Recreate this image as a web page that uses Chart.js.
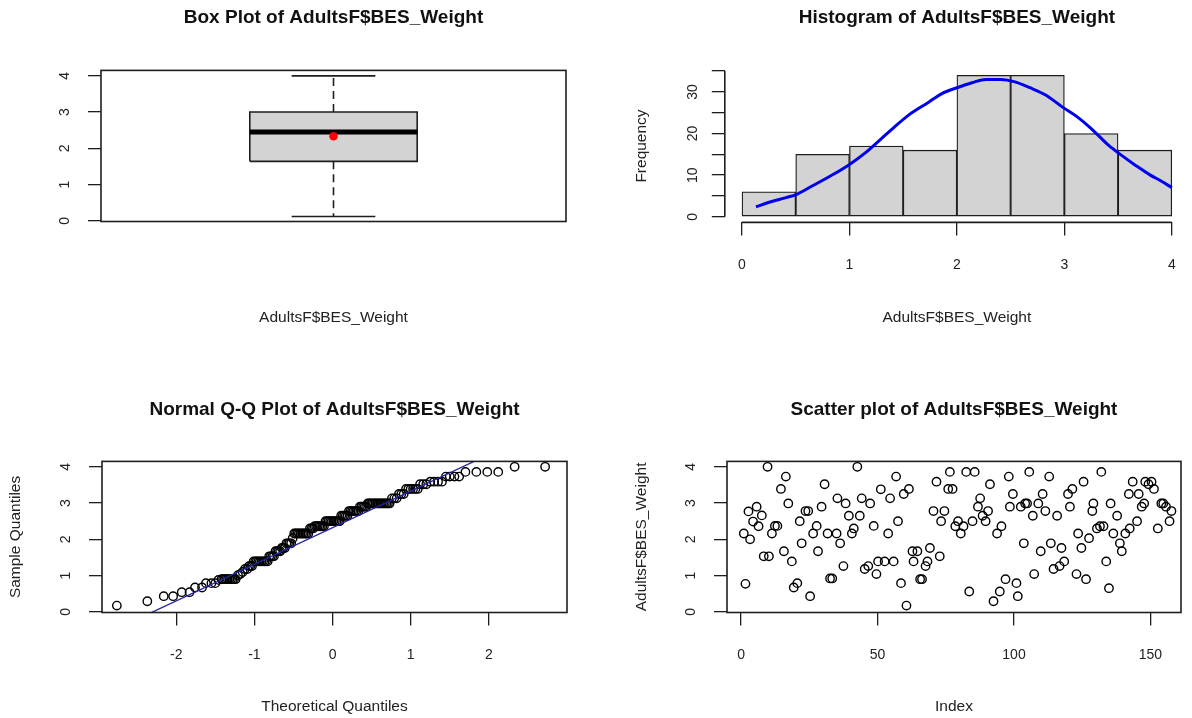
<!DOCTYPE html>
<html><head><meta charset="utf-8">
<script src="https://cdn.jsdelivr.net/npm/chart.js@4/dist/chart.umd.min.js"></script>
<style>
html,body{margin:0;padding:0;background:#fff;}
#wrap{position:relative;width:1192px;height:718px;overflow:hidden;}
canvas{position:absolute;}
</style></head><body>
<div id="wrap">
<canvas id="c1" width="596" height="359" style="left:0;top:0"></canvas>
<canvas id="c2" width="596" height="359" style="left:596px;top:0"></canvas>
<canvas id="c3" width="596" height="359" style="left:0;top:359px"></canvas>
<canvas id="c4" width="596" height="359" style="left:596px;top:359px"></canvas>
</div>
<script>
// ---------------- DATA ----------------
const varName = 'AdultsF$BES_Weight';
const boxStats = [0.12, 1.64, 2.45, 3.0, 4.0]; // min, Q1, median, Q3, max
const boxMean = 2.33;

const histBreaks = [0, 0.5, 1, 1.5, 2, 2.5, 3, 3.5, 4];
const histCounts = [6, 15, 17, 16, 34, 34, 20, 16];

const densityX = [0.13,0.27,0.41,0.51,0.64,0.81,0.98,1.15,1.29,1.42,1.56,1.73,1.86,2.0,2.14,2.27,2.41,2.54,2.68,2.83,2.98,3.12,3.25,3.41,3.53,3.66,3.80,3.90,4.0];
const densityY = [2.4,3.6,4.6,5.4,7.2,9.6,12.2,15.4,18.6,21.6,24.6,27.4,29.6,31.0,32.2,33.0,33.0,32.4,31.0,29.2,26.4,24.0,21.2,17.2,14.8,12.4,10.0,8.6,7.0];

const qqTheoretical = [
 -2.76,-2.37,-2.16,-2.04,-1.93,-1.83,-1.76,-1.67,-1.62,-1.55,-1.50,-1.46,
 -1.42,-1.40,-1.38,-1.36,-1.34,-1.32,-1.30,-1.28,-1.26,-1.24,
 -1.21,-1.18,-1.15,-1.12,-1.09,
 -1.07,-1.05,-1.03,
 -1.01,-0.99,-0.97,-0.95,-0.93,-0.91,-0.89,-0.87,-0.85,-0.83,
 -0.81,-0.79,-0.77,-0.75,
 -0.73,-0.71,-0.69,-0.67,
 -0.65,-0.63,-0.61,
 -0.59,-0.57,-0.55,-0.53,
 -0.51,
 -0.49,-0.47,-0.45,-0.43,-0.41,-0.39,-0.37,-0.35,-0.33,-0.31,
 -0.29,-0.27,-0.25,
 -0.23,-0.21,-0.19,-0.17,-0.15,-0.13,-0.11,
 -0.09,-0.07,-0.05,-0.03,-0.01,0.01,0.03,0.05,0.07,0.09,
 0.11,0.13,0.15,0.17,0.19,
 0.21,0.23,0.25,0.27,0.29,0.31,0.33,
 0.35,0.37,0.39,0.41,0.43,
 0.45,0.47,0.49,0.51,0.53,0.55,0.57,0.59,0.61,0.63,0.65,0.67,0.69,0.71,0.73,
 0.76,0.79,0.82,
 0.85,0.88,0.91,
 0.94,0.97,1.00,1.03,1.06,1.09,
 1.12,1.16,1.20,
 1.25,1.30,1.35,1.40,
 1.45,1.50,1.56,1.62,
 1.70,1.84,1.98,2.12,
 2.33,2.72];
const qqSample = [
 0.17,0.29,0.43,0.43,0.54,0.54,0.67,0.67,0.79,0.79,0.79,0.88,
 0.9,0.9,0.9,0.9,0.9,0.9,0.9,0.9,0.9,0.9,
 1.01,1.04,1.10,1.18,1.18,
 1.26,1.26,1.26,
 1.39,1.39,1.39,1.39,1.39,1.39,1.39,1.39,1.39,1.39,
 1.53,1.53,1.53,1.53,
 1.67,1.67,1.67,1.67,
 1.76,1.76,1.76,
 1.89,1.89,1.89,1.89,
 2.03,
 2.16,2.16,2.16,2.16,2.16,2.16,2.16,2.16,2.16,2.16,
 2.30,2.30,2.30,
 2.36,2.36,2.36,2.36,2.36,2.36,2.36,
 2.5,2.5,2.5,2.5,2.5,2.5,2.5,2.5,2.5,2.5,
 2.65,2.65,2.65,2.65,2.65,
 2.78,2.78,2.78,2.78,2.78,2.78,2.78,
 2.9,2.9,2.9,2.9,2.9,
 2.99,2.99,2.99,2.99,2.99,2.99,2.99,2.99,2.99,2.99,2.99,2.99,2.99,2.99,2.99,
 3.13,3.13,3.13,
 3.25,3.25,3.25,
 3.39,3.39,3.39,3.39,3.39,3.39,
 3.52,3.52,3.52,
 3.59,3.59,3.59,3.59,
 3.73,3.73,3.73,3.73,
 3.86,3.86,3.86,3.86,
 4.0,4.0];
const qqLineX = [-2.6, 2.0];
const qqLineY = [-0.306, 4.34];

const scatterIndex = [1,1.6,2.7,3.3,4.4,5.7,6.4,7.6,8.3,9.7,
 10.2,11.3,12.4,13.3,14.6,15.7,16.4,17.3,18.6,19.3,
 20.6,21.5,22.2,23.6,24.6,25.3,26.4,27.7,28.2,29.5,
 30.6,31.7,32.6,33.4,35,35.3,36.3,37.5,38.3,39.5,
 40.6,41.3,42.6,43.5,44.2,45.3,46.6,47.3,48.6,49.6,
 50.2,51.2,52.6,53.9,54.6,55.9,56.8,57.5,58.6,59.6,
 60.6,61.5,62.8,63.2,64.6,65.6,66.3,67.6,68.3,69.2,
 70.5,71.6,72.8,73.3,74.5,75.9,76.5,77.5,78.5,79.5,
 80.5,81.5,82.5,83.6,84.8,85.6,86.8,87.6,88.5,89.6,
 90.5,91.2,92.5,93.8,94.8,95.4,96.9,98.1,98.5,99.6,
 100.9,101.4,102.5,103.6,104.1,104.8,105.6,106.9,107.4,108.9,
 109.8,110.5,111.5,112.9,113.5,114.5,115.8,116.7,117.4,118.4,
 119.8,120.5,121.4,122.9,123.5,124.7,125.5,126.4,127.5,128.7,
 129.1,130.4,131.5,132,132.8,133.8,134.8,135.4,136.4,137.8,
 138.8,139.5,140.8,142.1,142.4,143.5,145.1,145.7,146.8,147.7,
 148.1,149.3,150.4,151.3,152.7,154,154.7,155.7,157,157.7];
const scatterValue = [2.16,0.77,2.77,2.0,2.49,2.9,2.36,2.66,1.53,4.0,
 1.53,2.16,2.37,2.37,3.39,1.67,3.73,2.99,1.39,0.67,
 0.79,2.5,1.89,2.78,2.78,0.43,2.16,2.37,1.67,2.9,
 3.52,2.16,0.92,0.92,2.16,3.13,1.89,1.26,2.99,2.65,
 2.16,2.3,4.0,2.65,3.13,1.18,1.26,2.99,2.37,1.04,
 1.39,3.38,1.39,2.16,3.13,1.39,3.73,2.5,0.79,3.25,
 0.17,3.39,1.67,1.39,1.67,0.9,0.9,1.26,1.39,1.76,
 2.78,3.59,1.53,2.5,2.78,3.39,3.86,3.39,2.36,2.5,
 2.16,2.36,3.86,0.56,2.5,3.86,2.9,3.13,2.65,2.5,
 2.78,3.52,0.29,2.16,0.56,2.36,0.9,3.73,2.9,3.25,
 0.79,0.43,2.9,1.89,2.99,2.99,3.86,2.65,1.04,2.99,
 1.67,3.25,2.78,3.73,1.89,1.18,2.65,1.26,1.76,1.39,
 3.25,2.9,3.39,1.04,2.16,1.76,3.59,0.9,2.03,2.78,
 2.99,2.3,2.36,3.86,2.36,1.39,0.65,2.99,2.16,2.65,
 1.89,1.67,2.16,3.25,2.3,3.59,2.5,3.25,2.9,2.99,
 3.59,3.52,3.59,3.39,2.3,2.99,2.99,2.9,2.5,2.78];

const weightTicks = [0, 1, 2, 3, 4];
const freqTicks = [0, 5, 10, 15, 20, 25, 30, 35];
const freqLabels = [0, 10, 20, 30];
const histXTicks = [0, 1, 2, 3, 4];
const qqXTicks = [-2, -1, 0, 1, 2];
const indexTicks = [0, 50, 100, 150];

// ---------------- STYLE / HELPERS ----------------
Chart.defaults.font.family = "'Liberation Sans', Arial, sans-serif";
Chart.defaults.color = '#222';
Chart.defaults.animation = false;

const INK = '#1e1e1e';
const TICK_FONT = {size: 14};
const AXT_FONT = {size: 15.5};
const TITLE_FONT = {size: 19, weight: 'bold'};

const framePlugin = {
  id: 'frame',
  afterDatasetsDraw(chart, args, opts) {
    if (!opts.show) return;
    const {ctx, chartArea: a} = chart;
    ctx.save(); ctx.strokeStyle = INK; ctx.lineWidth = 1.6;
    ctx.strokeRect(a.left, a.top, a.right - a.left, a.bottom - a.top);
    ctx.restore();
  }
};
const rAxisPlugin = {
  id: 'raxis',
  afterDraw(chart, args, opts) {
    if (!opts.show) return;
    const {ctx, chartArea: a, scales} = chart;
    const xs = scales.x, ys = scales.y;
    const xt = xs.ticks, yt = ys.ticks;
    ctx.save(); ctx.strokeStyle = INK; ctx.lineWidth = 1.6; ctx.beginPath();
    ctx.moveTo(xs.getPixelForValue(xt[0].value), a.bottom);
    ctx.lineTo(xs.getPixelForValue(xt[xt.length - 1].value), a.bottom);
    ctx.moveTo(a.left, ys.getPixelForValue(yt[0].value));
    ctx.lineTo(a.left, ys.getPixelForValue(yt[yt.length - 1].value));
    ctx.stroke(); ctx.restore();
  }
};

function xAxis(o) {
  return {
    type: 'linear', position: 'bottom', min: o.min, max: o.max, offset: false,
    afterBuildTicks: s => { s.ticks = (o.ticks || []).map(v => ({value: v})); },
    afterFit: s => { s.height = o.height; s.paddingLeft = 0; s.paddingRight = 0; },
    grid: {display: !!o.ticks, drawOnChartArea: false, drawTicks: true, tickLength: 13, color: INK, lineWidth: 1.3, offset: false},
    border: {display: false},
    ticks: {display: !!o.ticks, font: TICK_FONT, color: '#222', padding: 21, maxRotation: 0, minRotation: 0, autoSkip: false,
            callback: v => String(v)},
    title: {display: !!o.title, text: o.title, font: AXT_FONT, color: '#222', padding: {top: 0, bottom: o.titlePad}}
  };
}
function yAxis(o) {
  return {
    type: 'linear', position: 'left', min: o.min, max: o.max,
    afterBuildTicks: s => { s.ticks = o.ticks.map(v => ({value: v})); },
    afterFit: s => { s.width = o.width; s.paddingTop = 0; s.paddingBottom = 0; },
    grid: {drawOnChartArea: false, drawTicks: true, tickLength: 13, color: INK, lineWidth: 1.3},
    border: {display: false},
    ticks: {font: TICK_FONT, color: '#222', padding: o.labelPad, minRotation: 90, maxRotation: 90, crossAlign: 'center', autoSkip: false,
            callback: v => (o.labels ? (o.labels.includes(v) ? String(v) : '') : String(v))},
    title: {display: !!o.title, text: o.title, font: AXT_FONT, color: '#222', padding: {top: o.titlePad || 0, bottom: 0}}
  };
}
function titleOpt(text, padTop, padBottom) {
  return {display: true, text, font: TITLE_FONT, color: '#111', fullSize: false, padding: {top: padTop, bottom: padBottom}};
}
const common = {responsive: false, animation: false, events: [], devicePixelRatio: 1};

// ---------------- PANEL 1: BOX PLOT ----------------
(function () {
  const [mn, q1, med, q3, mx] = boxStats;
  const bw = 0.18, sw = 0.09; // box half-width, staple half-width (style)
  const seg = (a, b) => [a, b];
  new Chart(document.getElementById('c1'), {
    type: 'scatter',
    data: {datasets: [
      {data: [{x: 1, y: boxMean}], pointRadius: 3.8, pointBackgroundColor: '#ff0000', pointBorderColor: '#ff0000', showLine: false},
      {data: seg({x: 1 - bw, y: med}, {x: 1 + bw, y: med}), showLine: true, borderColor: '#000', borderWidth: 5, pointRadius: 0, borderCapStyle: 'butt'},
      {data: [{x: 1 - bw, y: q1}, {x: 1 + bw, y: q1}, {x: 1 + bw, y: q3}, {x: 1 - bw, y: q3}, {x: 1 - bw, y: q1}],
       showLine: true, borderColor: INK, borderWidth: 1.6, pointRadius: 0},
      {data: seg({x: 1, y: q3}, {x: 1, y: mx}), showLine: true, borderColor: INK, borderWidth: 1.6, borderDash: [8, 5], pointRadius: 0},
      {data: seg({x: 1, y: q1}, {x: 1, y: mn}), showLine: true, borderColor: INK, borderWidth: 1.6, borderDash: [8, 5], pointRadius: 0},
      {data: seg({x: 1 - sw, y: mx}, {x: 1 + sw, y: mx}), showLine: true, borderColor: INK, borderWidth: 1.6, pointRadius: 0},
      {data: seg({x: 1 - sw, y: mn}, {x: 1 + sw, y: mn}), showLine: true, borderColor: INK, borderWidth: 1.6, pointRadius: 0},
      {data: seg({x: 1 - bw, y: q3}, {x: 1 + bw, y: q3}), showLine: true, fill: {value: q1}, backgroundColor: '#d3d3d3', borderWidth: 0, pointRadius: 0}
    ]},
    options: Object.assign({}, common, {
      layout: {padding: {left: 0, right: 30, top: 0, bottom: 0}},
      plugins: {legend: {display: false}, tooltip: {enabled: false}, title: titleOpt('Box Plot of ' + varName, 6.6, 41.0), frame: {show: true}},
      scales: {
        x: xAxis({min: 0.5, max: 1.5, ticks: null, height: 137.5, title: varName, titlePad: 32}),
        y: yAxis({min: -0.02, max: 4.15, ticks: weightTicks, width: 101, labelPad: 19})
      }
    }),
    plugins: [framePlugin]
  });
})();

// ---------------- PANEL 2: HISTOGRAM ----------------
(function () {
  const mids = histCounts.map((c, i) => (histBreaks[i] + histBreaks[i + 1]) / 2);
  new Chart(document.getElementById('c2'), {
    type: 'bar',
    data: {datasets: [
      {type: 'line', data: densityX.map((x, i) => ({x, y: densityY[i]})), borderColor: '#0000ee', borderWidth: 3,
       pointRadius: 0, cubicInterpolationMode: 'monotone', fill: false},
      {type: 'bar', data: mids.map((x, i) => ({x, y: histCounts[i]})), backgroundColor: '#d3d3d3', borderColor: INK,
       borderWidth: 1.3, borderSkipped: false, barPercentage: 1, categoryPercentage: 1}
    ]},
    options: Object.assign({}, common, {
      layout: {padding: {left: 0, right: 3, top: 0, bottom: 0}},
      plugins: {legend: {display: false}, tooltip: {enabled: false}, title: titleOpt('Histogram of ' + varName, 6.6, 40.2), raxis: {show: true}},
      scales: {
        x: xAxis({min: -0.16, max: 4.16, ticks: histXTicks, height: 136.6, title: varName, titlePad: 32}),
        y: yAxis({min: -1.36, max: 35.36, ticks: freqTicks, labels: freqLabels, width: 128.8, labelPad: 11, title: 'Frequency', titlePad: 36})
      }
    }),
    plugins: [rAxisPlugin]
  });
})();

// ---------------- PANEL 3: NORMAL Q-Q ----------------
new Chart(document.getElementById('c3'), {
  type: 'scatter',
  data: {datasets: [
    {data: qqLineX.map((x, i) => ({x, y: qqLineY[i]})), showLine: true, borderColor: '#2323a8', borderWidth: 1.3, pointRadius: 0},
    {data: qqTheoretical.map((x, i) => ({x, y: qqSample[i]})), pointStyle: 'circle', pointRadius: 4.2, borderWidth: 1.4,
     pointBorderColor: '#000', pointBackgroundColor: 'rgba(0,0,0,0)'}
  ]},
  options: Object.assign({}, common, {
    layout: {padding: {left: 0, right: 29, top: 0, bottom: 0}},
    plugins: {legend: {display: false}, tooltip: {enabled: false}, title: titleOpt('Normal Q-Q Plot of ' + varName, 39.6, 40.0), frame: {show: true}},
    scales: {
      x: xAxis({min: -2.95, max: 3.0, ticks: qqXTicks, height: 105.5, title: 'Theoretical Quantiles', titlePad: 2}),
      y: yAxis({min: -0.02, max: 4.15, ticks: weightTicks, width: 102, labelPad: 19, title: 'Sample Quantiles', titlePad: 6})
    }
  }),
  plugins: [framePlugin]
});

// ---------------- PANEL 4: SCATTER ----------------
new Chart(document.getElementById('c4'), {
  type: 'scatter',
  data: {datasets: [
    {data: scatterIndex.map((x, i) => ({x, y: scatterValue[i]})), pointStyle: 'circle', pointRadius: 4.2, borderWidth: 1.4,
     pointBorderColor: '#000', pointBackgroundColor: 'rgba(0,0,0,0)'}
  ]},
  options: Object.assign({}, common, {
    layout: {padding: {left: 0, right: 11, top: 0, bottom: 0}},
    plugins: {legend: {display: false}, tooltip: {enabled: false}, title: titleOpt('Scatter plot of ' + varName, 39.6, 40.0), frame: {show: true}},
    scales: {
      x: xAxis({min: -5.16, max: 161.2, ticks: indexTicks, height: 105.5, title: 'Index', titlePad: 2}),
      y: yAxis({min: -0.02, max: 4.15, ticks: weightTicks, width: 131, labelPad: 19, title: varName, titlePad: 36})
    }
  }),
  plugins: [framePlugin]
});
</script>
</body></html>
